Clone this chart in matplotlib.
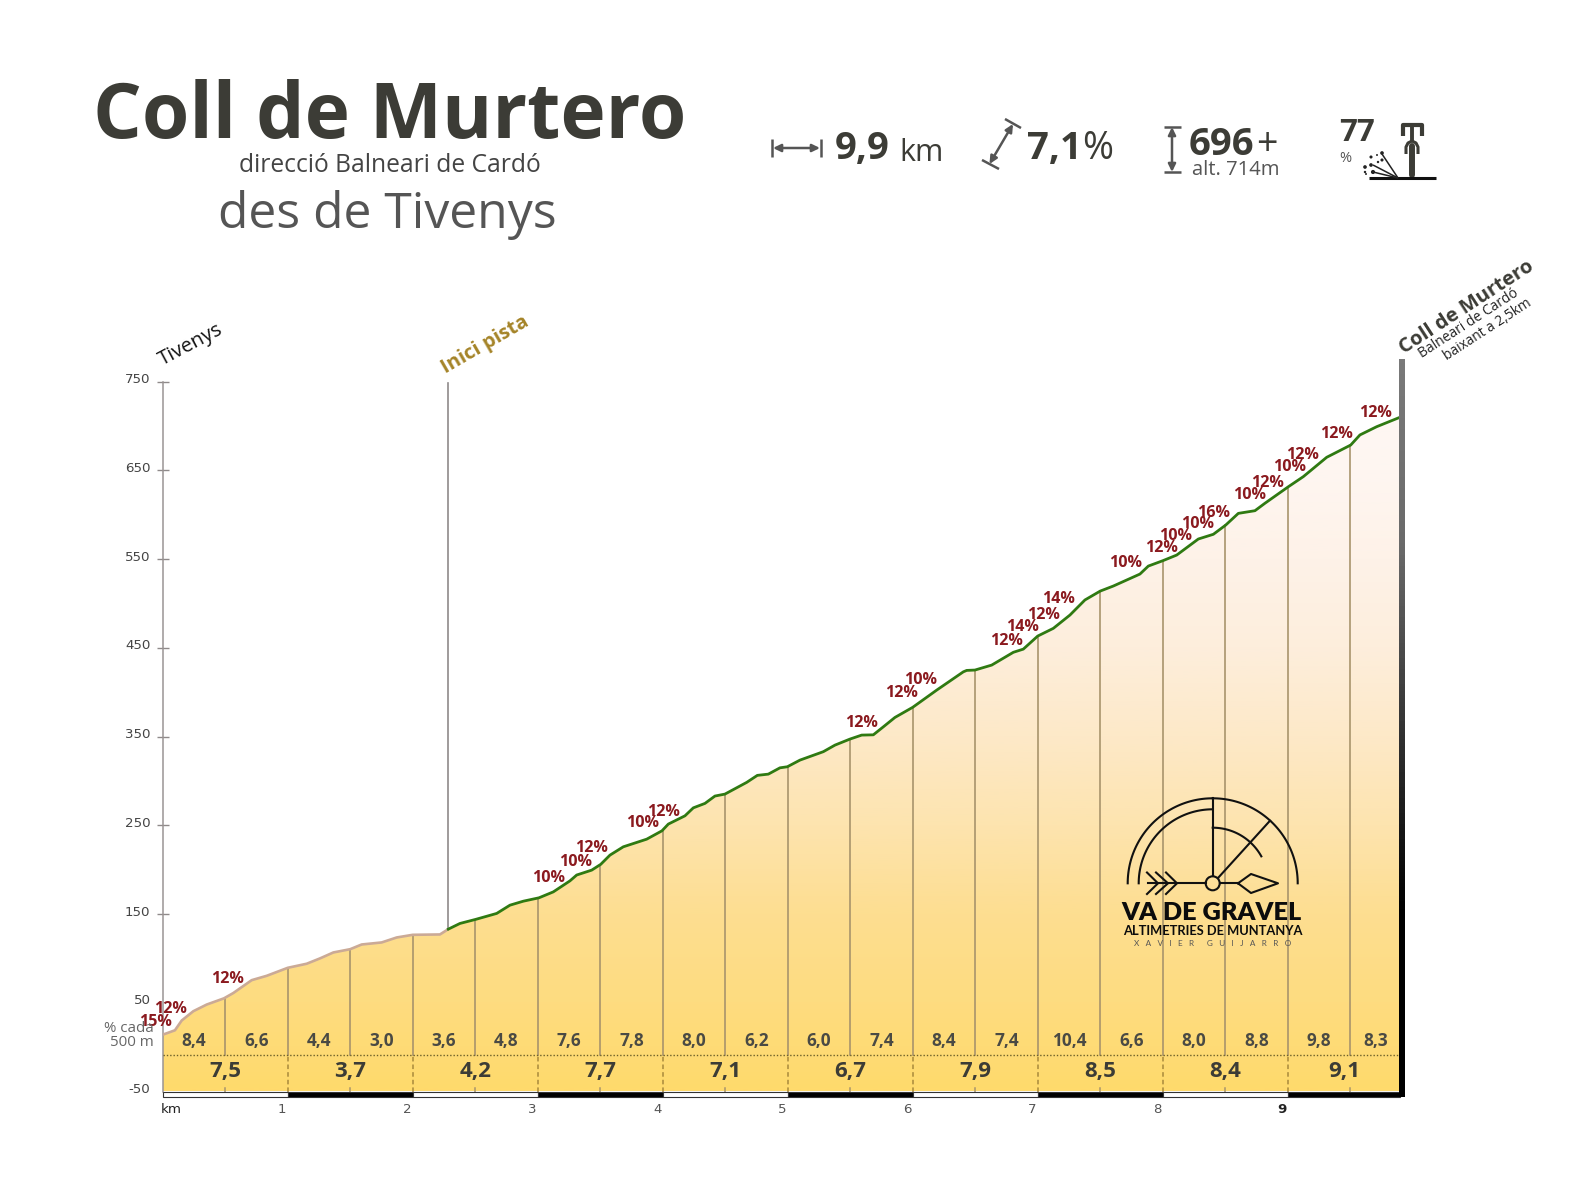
import numpy as np
import matplotlib
matplotlib.use("Agg")
import matplotlib.pyplot as plt
from matplotlib.colors import LinearSegmentedColormap
from matplotlib.patches import Polygon, Circle
from matplotlib.transforms import ScaledTranslation

# ---------- data ----------
profile_km = [0.0, 0.098, 0.152, 0.245, 0.352, 0.49, 0.565, 0.712, 0.832, 1.0, 1.152, 1.258, 1.365, 1.5,
              1.592, 1.752, 1.872, 2.0, 2.218, 2.285, 2.378, 2.504, 2.672, 2.778, 2.885, 3.01, 3.125, 3.258,
              3.312, 3.432, 3.504, 3.578, 3.685, 3.872, 3.994, 4.045, 4.178, 4.245, 4.338, 4.418, 4.498,
              4.672, 4.757, 4.845, 4.938, 4.997, 5.098, 5.285, 5.378, 5.498, 5.592, 5.685, 5.765, 5.858,
              6.0, 6.192, 6.405, 6.432, 6.498, 6.632, 6.805, 6.885, 7.0, 7.125, 7.258, 7.378, 7.5, 7.605,
              7.818, 7.885, 8.0, 8.112, 8.285, 8.405, 8.504, 8.605, 8.738, 8.818, 9.005, 9.125, 9.312,
              9.504, 9.578, 9.712, 9.9]
profile_m = [14, 19, 30, 40.5, 48, 55, 61, 75.5, 80.4, 89.4, 94, 100, 106.7, 110.4,
             115.7, 118, 123.6, 126.6, 127, 133, 139.4, 144, 150.7, 160, 164.5, 168.3, 175, 187.4,
             194, 199.5, 206, 216.4, 225.8, 234.4, 243.8, 251.4, 260.7, 269.7, 274.7, 283, 285.2,
             298.4, 306.3, 307.7, 314.8, 316, 323.5, 333, 340.4, 347.2, 351.7, 352, 361, 371.6,
             383, 402.4, 423, 424.6, 425, 430.6, 445, 448.6, 463.3, 472, 487, 504, 514, 519.7,
             533.2, 542.2, 548.2, 554.6, 572.7, 578, 588.4, 601.6, 604.6, 613, 631.6, 643, 664.8,
             678.6, 690, 699.3, 710]
track_start_km = 2.285
total_km = 9.9

slope_500m = ["8,4", "6,6", "4,4", "3,0", "3,6", "4,8", "7,6", "7,8", "8,0", "6,2",
              "6,0", "7,4", "8,4", "7,4", "10,4", "6,6", "8,0", "8,8", "9,8", "8,3"]
slope_1km = ["7,5", "3,7", "4,2", "7,7", "7,1", "6,7", "7,9", "8,5", "8,4", "9,1"]

pct_labels = ["15%", "12%", "12%", "10%", "10%", "12%", "10%", "12%", "12%", "12%", "10%", "12%", "14%",
              "12%", "14%", "10%", "12%", "10%", "10%", "16%", "10%", "12%", "10%", "12%", "12%", "12%"]
pct_km = [-0.054, 0.061, 0.522, 3.09, 3.301, 3.432, 3.84, 4.01, 5.592, 5.912, 6.066, 6.752, 6.88,
          7.045, 7.165, 7.704, 7.992, 8.104, 8.28, 8.405, 8.693, 8.837, 9.013, 9.117, 9.394, 9.701]
pct_m = [27.8, 43.1, 77, 190.8, 208.9, 224.6, 252.1, 265.2, 365.6, 399.4, 413.4, 457.3, 473.8,
         487.3, 504.7, 545.3, 562.2, 576.4, 589.2, 602.3, 622.6, 636.1, 653.5, 667.7, 690.7, 714.4]

y_ticks = [750, 650, 550, 450, 350, 250, 150, 50, -50]
x_ticks = [0, 1, 2, 3, 4, 5, 6, 7, 8, 9]
x_tick_labels = ["km", "1", "2", "3", "4", "5", "6", "7", "8", "9"]

# ---------- styles ----------
W, H = 1575, 1200
FONT = "Open Sans"
DARK = "#3c3c36"
GREY = "#555555"
RED = "#8b1a1f"
plt.rcParams["font.family"] = [FONT, "DejaVu Sans"]

fig = plt.figure(figsize=(W / 100, H / 100), dpi=100, facecolor="white")
x0, x1, ytop, ybot = 162.7, 1400.2, 381.7, 1091.5
ax = fig.add_axes([x0 / W, 1 - ybot / H, (x1 - x0) / W, (ybot - ytop) / H])
ax.set_xlim(0, total_km)
ax.set_ylim(-50, 750)
ax.patch.set_alpha(0)
for s in ("top", "right", "bottom"):
    ax.spines[s].set_visible(False)
ax.spines["left"].set_color("#9a9494")
ax.spines["left"].set_linewidth(1.1)

km = np.array(profile_km)
m = np.array(profile_m)

# gradient fill below the profile
stops = [(255, 218, 108), (254, 220, 128), (253, 222, 145), (253, 228, 175), (253, 233, 200),
         (253, 238, 220), (254, 242, 232), (254, 246, 241), (254, 248, 245)]
cmap = LinearSegmentedColormap.from_list("prof", [tuple(c / 255 for c in s) for s in stops])
im = ax.imshow(np.linspace(0, 1, 400)[:, None], origin="lower", extent=(0, total_km, -50, 750),
               aspect="auto", cmap=cmap, zorder=1)
poly = Polygon(np.vstack([[0, -50], np.column_stack([km, m]), [total_km, -50]]), closed=True,
               transform=ax.transData, fc="none", ec="none")
ax.add_patch(poly)
im.set_clip_path(poly)

# profile line: road (tan) then track (green)
road = km <= track_start_km
ax.plot(km[road], m[road], color="#cbaa96", lw=1.9, zorder=4, solid_capstyle="butt")
track = ~road | (km == track_start_km)
ax.plot(km[track], m[track], color="#2f7a12", lw=2.0, zorder=4, solid_joinstyle="round")

# vertical guides every 500 m
slope_y = -8.3
for i in range(1, 20):
    k = i * 0.5
    ax.plot([k, k], [slope_y, np.interp(k, km, m)], color="#a8946c", lw=1.2, zorder=2)
    if i % 2 == 0:
        ax.plot([k, k], [-50, slope_y], color="#a88a3c", lw=1.1, ls=(0, (3, 2)), zorder=2)
    else:
        ax.plot([k, k], [-50, -46], color="#a8946c", lw=1.1, zorder=2)
ax.plot([track_start_km, track_start_km], [748, np.interp(track_start_km, km, m)], color="#8f8a8a", lw=1.2, zorder=2)
ax.plot([0, total_km], [slope_y, slope_y], color="#6b5f2a", lw=1.0, ls=(0, (1, 1.4)), zorder=3)

# km band under the axis
for k in range(10):
    right = min(k + 1, total_km)
    ax.bar(k, -6, width=right - k, bottom=-50, align="edge", color="white" if k % 2 == 0 else "black",
           edgecolor="#333333", linewidth=0.8, clip_on=False, zorder=3)

# ticks
ax.set_yticks(y_ticks)
ax.set_yticklabels([str(v) for v in y_ticks])
ax.tick_params(axis="y", direction="inout", length=8.6, width=1.0, color="#8f8a8a", pad=4.5,
               labelsize=9.6, labelcolor="#444444")
for t, v in zip(ax.yaxis.get_major_ticks(), y_ticks):
    if v < 100:
        t.tick1line.set_visible(False)
for lab in ax.get_yticklabels():
    lab.set_fontfamily("DejaVu Sans")
    lab.set_transform(lab.get_transform() + ScaledTranslation(0, 2.5 / 72, fig.dpi_scale_trans))
ax.set_xticks(x_ticks)
ax.set_xticklabels(x_tick_labels)
ax.tick_params(axis="x", length=0, pad=8, labelsize=9.6, labelcolor="#555555")
for lab, name in zip(ax.get_xticklabels(), x_tick_labels):
    lab.set_fontfamily("DejaVu Sans")
    dx = 6 if name == "km" else -4
    lab.set_transform(lab.get_transform() + ScaledTranslation(dx / 72, 0, fig.dpi_scale_trans))
    if name in ("km", "9"):
        lab.set_color("#222222")
    if name == "9":
        lab.set_fontweight("bold")

# slope values
for i, txt in enumerate(slope_500m):
    a = i * 0.5
    mid = (a + min(a + 0.5, total_km)) / 2
    ax.text(mid, 6.5, txt, ha="center", va="center", fontsize=12.4, fontweight="bold", color="#4a4a44", zorder=6)
for i, txt in enumerate(slope_1km):
    mid = (i + min(i + 1, total_km)) / 2
    ax.text(mid, -27, txt, ha="center", va="center", fontsize=16, fontweight="bold", color=DARK, zorder=6)

# gradient percentages
for k, v, txt in zip(pct_km, pct_m, pct_labels):
    ax.text(k, v, txt, ha="center", va="center", fontsize=11.6, fontweight="bold", color=RED, zorder=7,
            clip_on=False)

# ---------- overlay in pixel coordinates ----------
ov = fig.add_axes([0, 0, 1, 1])
ov.set_xlim(0, W)
ov.set_ylim(H, 0)
ov.axis("off")
ov.patch.set_alpha(0)

ov.text(389.5, 138, "Coll de Murtero", ha="center", va="baseline", fontsize=55.2, fontweight="bold", color=DARK)
ov.text(389.5, 171.5, "direcció Balneari de Cardó", ha="center", va="baseline", fontsize=17.7, color="#444444")
ov.text(387, 228, "des de Tivenys", ha="center", va="baseline", fontsize=35.9, color=GREY)

# rotated place names
ov.text(191, 345, "Tivenys", rotation=28, rotation_mode="anchor", ha="center", va="center", fontsize=14.5, color="#111111")
ov.text(485, 344.5, "Inici pista", rotation=30, rotation_mode="anchor", ha="center", va="center", fontsize=14.5,
        fontweight="bold", color="#a58428")
ov.text(1467, 307, "Coll de Murtero", rotation=33, rotation_mode="anchor", ha="center", va="center", fontsize=14.5,
        fontweight="bold", color=DARK)
ov.text(1469, 323.5, "Balneari de Cardó", rotation=33, rotation_mode="anchor", ha="center", va="center", fontsize=10,
        color="#222222")
ov.text(1488, 330, "baixant a 2,5km", rotation=33, rotation_mode="anchor", ha="center", va="center", fontsize=9.9,
        color="#222222")
ov.text(154, 1029, "% cada", ha="right", va="center", fontsize=10.8, color="#666666")
ov.text(154, 1043, "500 m", ha="right", va="center", fontsize=10.8, color="#666666")

# summit post with gradient
post = np.linspace(0, 1, 200)[:, None]
pc = LinearSegmentedColormap.from_list("post", ["#7a7a7a", "#6a6a6a", "#333333", "#000000", "#000000"])
ov.imshow(post, extent=(1399, 1405, 1097, 359), aspect="auto", cmap=pc, zorder=5, origin="upper")
ov.set_xlim(0, W)
ov.set_ylim(H, 0)

# header stats
def seg(xs, ys, c=GREY, lw=1.8, **kw):
    ov.plot(xs, ys, color=c, lw=lw, solid_capstyle=kw.pop("cap", "butt"), **kw)

def arrow(p, q):
    ov.annotate("", xy=q, xytext=p, arrowprops=dict(arrowstyle="<|-|>,head_width=0.22,head_length=0.45", lw=1.8,
                                                    color=GREY, shrinkA=0, shrinkB=0))

arrow((773, 148), (820, 148))
seg([772, 772], [139, 157]); seg([821, 821], [139, 157])
ov.text(835, 159.3, "9,9", fontsize=27.5, fontweight="bold", color=DARK, va="baseline")
ov.text(899, 161, "km", fontsize=22, color=DARK, va="baseline")

arrow((989.5, 164), (1013, 124))
seg([982, 999], [160, 169]); seg([1005, 1021], [119, 128])
ov.text(1027, 159.3, "7,1", fontsize=27.5, fontweight="bold", color=DARK, va="baseline")
ov.text(1082, 159.3, "%", fontsize=27, color=DARK, va="baseline")

arrow((1172, 127), (1172, 172))
seg([1164, 1181], [126.5, 126.5]); seg([1164, 1181], [172, 172])
ov.text(1189, 155, "696", fontsize=27.5, fontweight="bold", color=DARK, va="baseline")
ov.text(1256, 155, "+", fontsize=27, color=DARK, va="baseline")
ov.text(1192, 175, "alt. 714m", fontsize=14.6, color=GREY, va="baseline")
ov.text(1339, 140.7, "77", fontsize=22.5, fontweight="bold", color=DARK, va="baseline")
ov.text(1339, 161.5, "%", fontsize=10.5, color=GREY, va="baseline")

# bike icon
seg([1412, 1412], [146, 175], c=DARK, lw=4.3, cap="round")
seg([1406, 1406, 1408, 1412, 1416, 1418, 1418], [154, 147, 143, 141, 143, 147, 154], c=DARK, lw=2.2)
seg([1412, 1412], [124, 141], c=DARK, lw=2.8)
seg([1403, 1403, 1422, 1422], [136, 124.5, 124.5, 136], c=DARK, lw=3.0)
seg([1369, 1436], [178, 178], c="#111111", lw=2.2)
for ex, ey in [(1382, 154), (1373, 165), (1373, 172)]:
    seg([1398, ex], [178, ey], c="#222222", lw=1.1)
ov.scatter([1371, 1382, 1371, 1365, 1373, 1365, 1378, 1382, 1377, 1366],
           [157, 153, 165, 167, 172, 172, 162, 160, 155, 174],
           s=[5, 7, 7, 7, 9, 3, 3, 5, 2, 2], color="#222222", lw=0)

# logo
lk = "#111111"
cx, cy = 1212.7, 883.3
def arc(r, t1, t2, lw=1.5):
    th = np.radians(np.linspace(t1, t2, 80))
    ov.plot(cx + r * np.cos(th), cy - r * np.sin(th), color=lk, lw=lw, zorder=6)
arc(85, 0, 90)
arc(85, 90, 180)
arc(74, 90, 180)
arc(55.6, 29, 90)
ov.add_patch(Circle((cx, cy), 7, fc="none", ec=lk, lw=1.5, zorder=6))
for xs, ys in [([cx, cx], [876, 798]), ([1218, 1270], [878, 820.7]), ([1148, 1205.7], [883.3, 883.3]),
               ([1219.7, 1238], [883.3, 883.3]),
               ([1238, 1251, 1278, 1251, 1238], [883.3, 874, 883.3, 893, 883.3]),
               ([1147, 1158, 1147], [872.5, 883.3, 894]), ([1156, 1168, 1156], [872.5, 883.3, 894]),
               ([1166, 1177, 1166], [872.5, 883.3, 894])]:
    ov.plot(xs, ys, color=lk, lw=1.5, zorder=6)
ov.text(1211.5, 920, "VA DE GRAVEL", ha="center", va="baseline", family="Lato", fontsize=18.2, fontweight="heavy", color="#0c0c0c", zorder=6)
ov.text(1212.5, 935, "ALTIMETRIES DE MUNTANYA", ha="center", va="baseline", family="Lato", fontsize=9.3, fontweight="bold", color="#0c0c0c", zorder=6)
ov.text(1213, 946, "X   A   V   I   E   R      G   U   I   J   A   R   R   O", ha="center", va="baseline", family="Lato", fontsize=5.9, color="#555555", zorder=6)

fig.savefig("out.png", dpi=100, facecolor="white")
